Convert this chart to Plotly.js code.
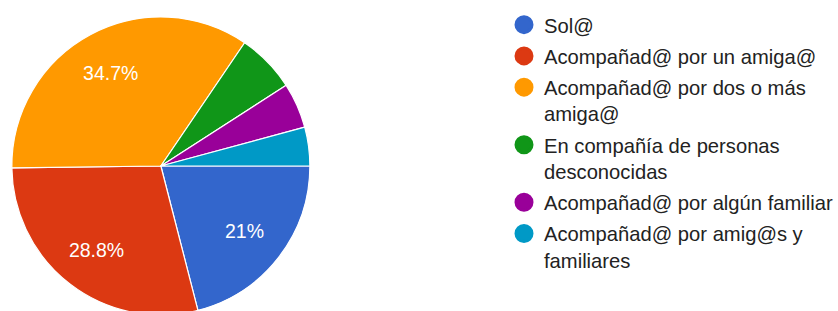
<!DOCTYPE html>
<html>
<head>
<meta charset="utf-8">
<script src="https://cdn.plot.ly/plotly-3.0.1.min.js"></script>
<style>
html,body{margin:0;padding:0;background:#fff;overflow:hidden;width:838px;height:311px;}
#chart{width:838px;height:330px;}
</style>
</head>
<body>
<div id="chart"></div>
<script>
// Data
var categories = [
  "Sol@",
  "Acompañad@ por un amiga@",
  "Acompañad@ por dos o más<br>amiga@",
  "En compañía de personas<br>desconocidas",
  "Acompañad@ por algún familiar",
  "Acompañad@ por amig@s y<br>familiares"
];
var percentages = [21, 28.8, 34.7, 6.4, 4.9, 4.2];
var sliceLabels = ["21%", "28.8%", "34.7%", "", "", ""];
var colors = ["#3366cc", "#dc3912", "#ff9900", "#109618", "#990099", "#0099c6"];

var FONT = "Liberation Sans, Arial, Helvetica, sans-serif";
var W = 838, H = 330;
var pieDomain = {x: [12 / W, 314 / W], y: [1 - 317 / H, 1 - 15 / H]};

var traces = [{
  type: "pie",
  labels: categories,
  values: percentages,
  textinfo: "none",
  marker: {colors: colors, line: {color: "#ffffff", width: 1.2}},
  sort: false,
  direction: "clockwise",
  rotation: 90,
  showlegend: false,
  hoverinfo: "none",
  domain: pieDomain
}, {
  // same slices as a transparent ring, only to carry the percentage labels
  type: "pie",
  labels: categories,
  values: percentages,
  text: sliceLabels,
  textinfo: "text",
  textposition: "inside",
  insidetextorientation: "horizontal",
  textfont: {family: FONT, size: 19.5, color: "#ffffff"},
  hole: 0.42,
  marker: {colors: colors.map(function () { return "rgba(0,0,0,0)"; }), line: {width: 0}},
  sort: false,
  direction: "clockwise",
  rotation: 90,
  showlegend: false,
  hoverinfo: "none",
  domain: pieDomain
}];

categories.forEach(function (c, i) {
  traces.push({
    type: "scatter",
    mode: "markers",
    x: [null], y: [null],
    name: c,
    legendgroup: "g" + i,
    marker: {color: colors[i], size: 16, symbol: "circle", line: {color: colors[i], width: 3}},
    hoverinfo: "none"
  });
});

var layout = {
  width: W, height: H,
  margin: {l: 0, r: 0, t: 0, b: 0},
  paper_bgcolor: "#ffffff",
  plot_bgcolor: "#ffffff",
  xaxis: {visible: false, domain: [0.99, 1]},
  yaxis: {visible: false, domain: [0.99, 1]},
  showlegend: true,
  legend: {
    x: 511 / W, xanchor: "left",
    y: 1 - 5 / H, yanchor: "top",
    traceorder: "grouped",
    tracegroupgap: 2,
    valign: "top",
    itemsizing: "trace",
    font: {family: FONT, size: 20.2, color: "#222222"},
    bgcolor: "rgba(0,0,0,0)"
  }
};

Plotly.newPlot("chart", traces, layout, {staticPlot: true, displayModeBar: false});
</script>
</body>
</html>
